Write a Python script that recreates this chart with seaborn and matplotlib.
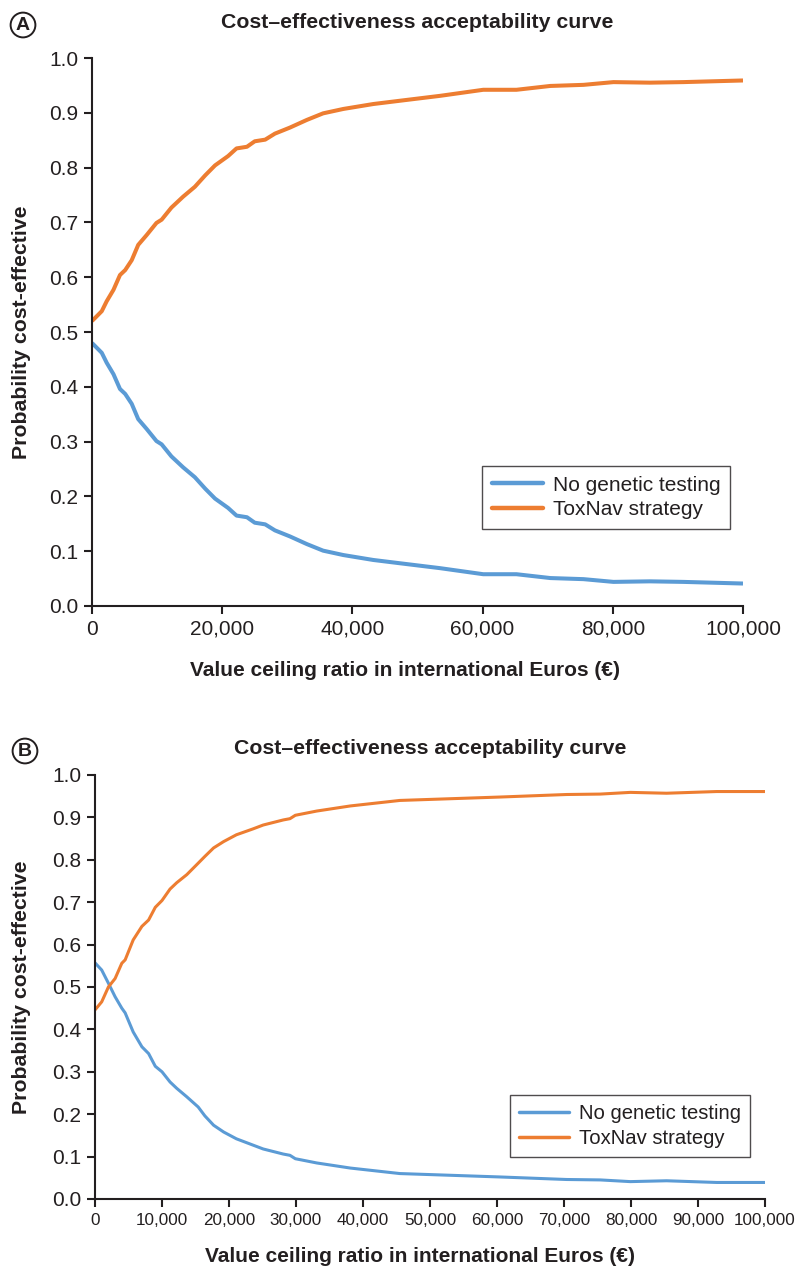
import numpy as np
import pandas as pd
import matplotlib
matplotlib.use("Agg")
import matplotlib.pyplot as plt
import seaborn as sns

# ---- Data: cost-effectiveness acceptability curves ----
strategies = ["No genetic testing", "ToxNav strategy"]
colors = ["#5B9BD5", "#ED7D31"]

wtp_a = [0, 1500, 2250, 3300, 4300, 5100, 6100, 7100, 8400, 9900, 10700, 12200,
         14000, 15800, 17400, 18900, 20900, 22200, 23800, 25000, 26600, 28100,
         30400, 33000, 35500, 38600, 43200, 47300, 53500, 60100, 65200, 70400,
         75500, 80100, 85700, 90800, 100000]
no_test_a = [0.480, 0.462, 0.444, 0.423, 0.396, 0.387, 0.369, 0.341, 0.323, 0.301,
             0.295, 0.273, 0.253, 0.235, 0.214, 0.196, 0.179, 0.165, 0.162, 0.152,
             0.149, 0.138, 0.127, 0.113, 0.101, 0.093, 0.084, 0.078, 0.069, 0.058,
             0.058, 0.051, 0.049, 0.044, 0.045, 0.044, 0.041]
toxnav_a = [0.520, 0.538, 0.556, 0.577, 0.604, 0.613, 0.631, 0.659, 0.677, 0.699,
            0.705, 0.727, 0.747, 0.765, 0.786, 0.804, 0.821, 0.835, 0.838, 0.848,
            0.851, 0.862, 0.873, 0.887, 0.899, 0.907, 0.916, 0.922, 0.931, 0.942,
            0.942, 0.949, 0.951, 0.956, 0.955, 0.956, 0.959]

wtp_b = [0, 1000, 2000, 3000, 4000, 4500, 5700, 7000, 8000, 9000, 10000, 11200,
         12200, 13700, 15400, 16400, 17700, 19200, 21100, 23600, 25100, 28100,
         29100, 29900, 33100, 38100, 45500, 60400, 70400, 75400, 79900, 85300,
         92800, 100000]
no_test_b = [0.557, 0.540, 0.509, 0.477, 0.450, 0.439, 0.394, 0.359, 0.343, 0.313,
             0.300, 0.276, 0.261, 0.241, 0.217, 0.196, 0.174, 0.158, 0.142, 0.127,
             0.118, 0.106, 0.103, 0.095, 0.085, 0.073, 0.060, 0.052, 0.046, 0.045,
             0.041, 0.043, 0.039, 0.039]
toxnav_b = [0.446, 0.465, 0.500, 0.520, 0.556, 0.564, 0.611, 0.643, 0.658, 0.688,
            0.704, 0.731, 0.746, 0.765, 0.792, 0.808, 0.828, 0.843, 0.859, 0.873,
            0.882, 0.894, 0.897, 0.905, 0.915, 0.927, 0.940, 0.948, 0.954, 0.955,
            0.959, 0.957, 0.961, 0.961]

y_ticks = [0.0, 0.1, 0.2, 0.3, 0.4, 0.5, 0.6, 0.7, 0.8, 0.9, 1.0]
x_ticks_a = [0, 20000, 40000, 60000, 80000, 100000]
x_ticks_b = [0, 10000, 20000, 30000, 40000, 50000, 60000, 70000, 80000, 90000, 100000]

title = "Cost\u2013effectiveness acceptability curve"
xlabel = "Value ceiling ratio in international Euros (\u20ac)"
ylabel = "Probability cost-effective"


def long_frame(x, s1, s2):
    return pd.DataFrame({
        "wtp": list(x) + list(x),
        "prob": list(s1) + list(s2),
        "Strategy": [strategies[0]] * len(x) + [strategies[1]] * len(x),
    })


sns.set_style("ticks")
plt.rcParams["font.family"] = ["Liberation Sans", "DejaVu Sans"]
ink = "#231F20"
plt.rcParams["text.color"] = ink
plt.rcParams["axes.edgecolor"] = ink
plt.rcParams["xtick.color"] = ink
plt.rcParams["ytick.color"] = ink

W, H = 800, 1272
fig = plt.figure(figsize=(W / 100, H / 100), dpi=100)


def px_axes(left, top, right, bottom):
    return fig.add_axes([left / W, 1 - bottom / H, (right - left) / W, (bottom - top) / H])


def draw_panel(ax, df, lw, xticks, xtick_size, legend_anchor, legend_size):
    sns.lineplot(data=df, x="wtp", y="prob", hue="Strategy", palette=colors,
                 linewidth=lw, ax=ax, legend=False, estimator=None, sort=False)
    ax.set_xlim(0, 100000)
    ax.set_ylim(0, 1)
    ax.set_xticks(xticks)
    ax.set_xticklabels([f"{v:,}" for v in xticks], fontsize=xtick_size)
    ax.set_yticks(y_ticks)
    ax.set_yticklabels([f"{v:.1f}" for v in y_ticks], fontsize=15)
    ax.set_xlabel("")
    ax.set_ylabel("")
    for side in ("top", "right"):
        ax.spines[side].set_visible(False)
    for side in ("left", "bottom"):
        ax.spines[side].set_linewidth(1.5)
    ax.tick_params(axis="both", length=6, width=1.5, direction="out", pad=4)
    for line in ax.get_lines():
        line.set_solid_capstyle("butt")
    handles = [plt.Line2D([], [], color=c, linewidth=lw + 0.3) for c in colors]
    leg = ax.legend(handles, strategies, loc="upper right", bbox_to_anchor=legend_anchor,
                    borderaxespad=0, frameon=True, fancybox=False, fontsize=legend_size,
                    handlelength=2.45, handletextpad=0.5, labelspacing=0.28,
                    borderpad=0.45)
    leg.get_frame().set_edgecolor(ink)
    leg.get_frame().set_linewidth(1.0)


def panel_letter(x, y, letter):
    fig.text(x / W, 1 - y / H, letter, ha="center", va="center", fontsize=14,
             fontweight="bold",
             bbox=dict(boxstyle="circle,pad=0.2", facecolor="white",
                       edgecolor=ink, linewidth=1.4))


# Panel A
ax_a = px_axes(92, 58, 743, 606)
draw_panel(ax_a, long_frame(wtp_a, no_test_a, toxnav_a), 2.9, x_ticks_a, 15,
           (0.980, 0.255), 15)
fig.text(417 / W, 1 - 22 / H, title, ha="center", va="center", fontsize=15.3,
         fontweight="bold")
fig.text(405 / W, 1 - 670 / H, xlabel, ha="center", va="center", fontsize=15,
         fontweight="bold")
fig.text(22 / W, 1 - 332 / H, ylabel, ha="center", va="center", rotation=90,
         fontsize=15.3, fontweight="bold")
panel_letter(23, 25, "A")

# Panel B
ax_b = px_axes(95, 775, 765, 1199)
draw_panel(ax_b, long_frame(wtp_b, no_test_b, toxnav_b), 2.2, x_ticks_b, 12.3,
           (0.978, 0.245), 14.6)
fig.text(430 / W, 1 - 748 / H, title, ha="center", va="center", fontsize=15.3,
         fontweight="bold")
fig.text(420 / W, 1 - 1257 / H, xlabel, ha="center", va="center", fontsize=15,
         fontweight="bold")
fig.text(22 / W, 1 - 987 / H, ylabel, ha="center", va="center", rotation=90,
         fontsize=15.3, fontweight="bold")
panel_letter(25, 751, "B")

fig.savefig("out.png", dpi=100)
